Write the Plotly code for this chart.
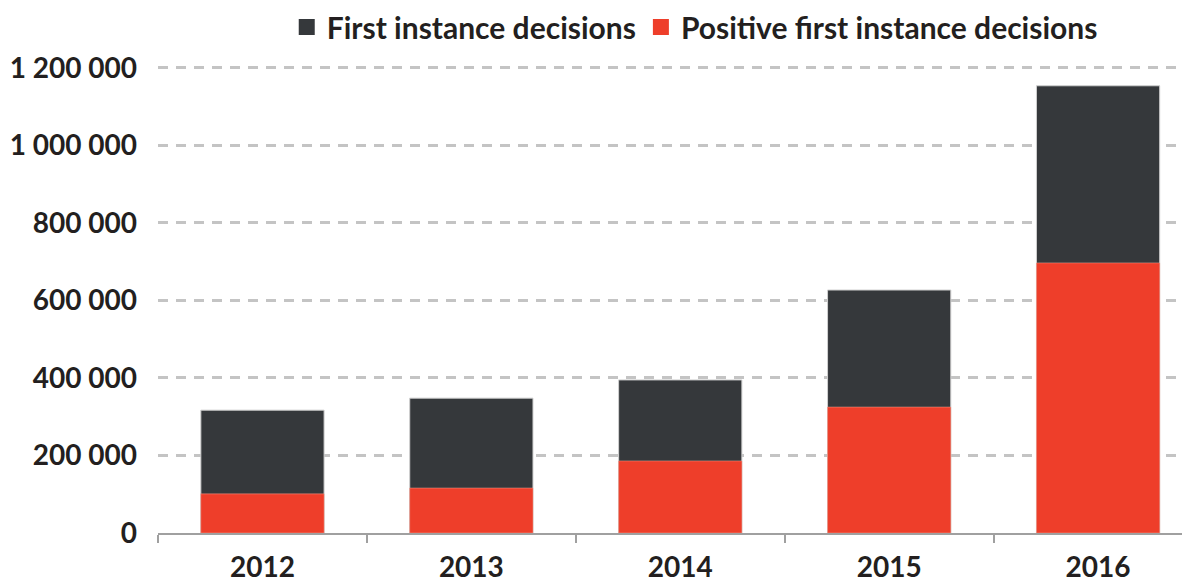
import plotly.graph_objects as go

years = ["2012", "2013", "2014", "2015", "2016"]
first_instance = [317000, 348000, 395000, 627000, 1154000]
positive = [101000, 116000, 186000, 325000, 697000]
y_ticks = [0, 200000, 400000, 600000, 800000, 1000000, 1200000]
y_tick_labels = ["0", "200 000", "400 000", "600 000", "800 000", "1 000 000", "1 200 000"]

font_family = "Lato, 'Open Sans', sans-serif"
dark = "#35383b"
red = "#ee3e2a"

fig = go.Figure()
fig.add_trace(go.Bar(
    x=years, y=first_instance, name="First instance decisions",
    marker=dict(color=dark, line=dict(color="#d0d0d0", width=1)),
    width=0.59, showlegend=False,
))
fig.add_trace(go.Bar(
    x=years, y=positive, name="Positive first instance decisions",
    marker=dict(color=red, line=dict(color="#f0a090", width=0.5)),
    width=0.59, showlegend=False,
))
# legend entries with large square swatches
for name, col in [("First instance decisions", dark), ("Positive first instance decisions", red)]:
    fig.add_trace(go.Scatter(
        x=[None], y=[None], mode="markers", name=name,
        marker=dict(symbol="square", size=19, color=col),
        showlegend=True,
    ))

# page body has an 8px default margin: figure sized/offset to compensate
fig.update_layout(
    width=1182, height=574,
    barmode="overlay",
    plot_bgcolor="white", paper_bgcolor="white",
    margin=dict(l=150, r=0, t=58, b=49, autoexpand=False),
    font=dict(family=font_family, size=28, color="#231f20"),
    legend=dict(
        orientation="h", x=0.581, y=0.967, xanchor="center", yanchor="middle",
        xref="container", yref="container",
        font=dict(size=30, family=font_family, weight="bold"),
        itemsizing="trace", traceorder="normal", itemwidth=30,
        bgcolor="rgba(0,0,0,0)",
    ),
    xaxis=dict(
        type="category", range=[-0.5, 4.44], automargin=False,
        showline=True, linecolor="#a0a0a0", linewidth=2,
        ticks="outside", tickson="boundaries", ticklen=8, tickwidth=2, tickcolor="#a0a0a0",
        tickfont=dict(size=28, weight="bold", family=font_family),
        ticklabelstandoff=8,
        showgrid=False,
    ),
    yaxis=dict(
        range=[0, 1205000], tickvals=y_ticks, ticktext=y_tick_labels, automargin=False,
        showgrid=True, gridcolor="#c4c4c4", gridwidth=2.5, griddash="10px,8px",
        zeroline=False, showline=False, ticks="", ticklabelstandoff=20,
        tickfont=dict(size=28, weight="bold", family=font_family),
    ),
)

fig.write_html("out.html")
